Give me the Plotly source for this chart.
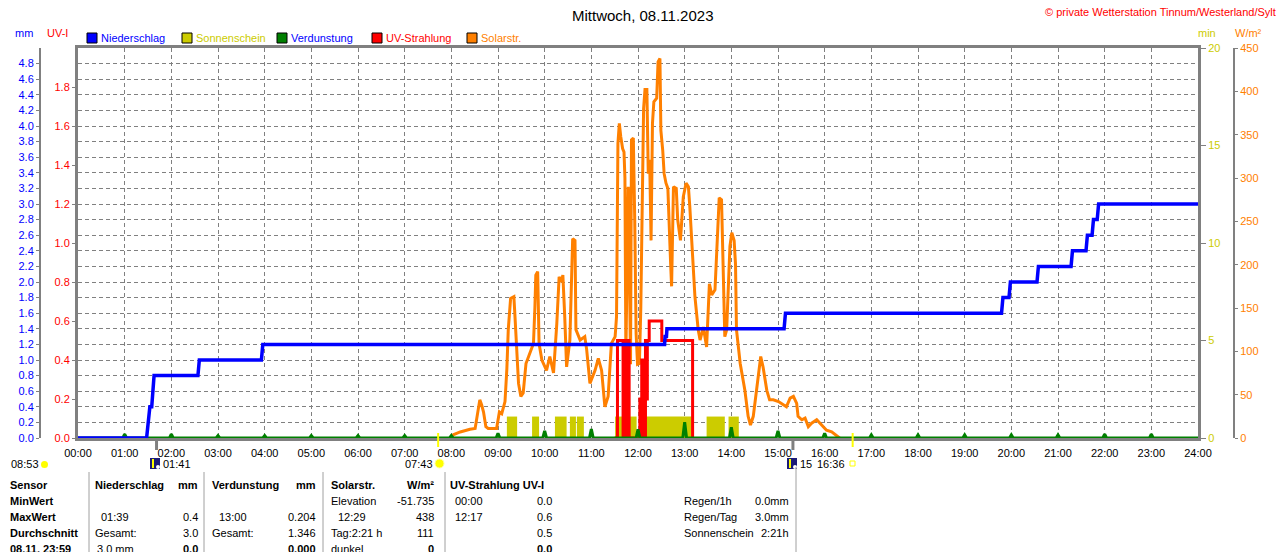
import plotly.graph_objects as go

W, H = 1280, 552

# ---- data (time in decimal hours) ----
hour_ticks = list(range(25))
hour_labels = ["%02d:00" % h for h in hour_ticks]

rain_t = [0.00, 1.47, 1.54, 1.58, 1.63, 2.57, 2.60, 3.93, 3.96, 12.57, 12.58, 12.61, 12.62,
          15.13, 15.16, 19.79, 19.82, 19.95, 19.98, 20.55, 20.58, 21.28, 21.31, 21.60, 21.63,
          21.73, 21.76, 21.84, 21.87, 24.00]
rain_mm = [0.0, 0.0, 0.4, 0.4, 0.8, 0.8, 1.0, 1.0, 1.2, 1.2, 1.3, 1.3, 1.4,
           1.4, 1.6, 1.6, 1.8, 1.8, 2.0, 2.0, 2.2, 2.2, 2.4, 2.4, 2.6,
           2.6, 2.8, 2.8, 3.0, 3.0]

uv_t = [11.50, 11.56, 11.68, 11.70, 11.73, 11.75, 11.78, 11.79, 11.81, 12.04, 12.06, 12.08,
        12.10, 12.12, 12.14, 12.16, 12.18, 12.20, 12.24, 12.51, 13.17, 13.20]
uv_i = [0.0, 0.5, 0.0, 0.5, 0.0, 0.5, 0.0, 0.5, 0.0, 0.2, 0.0, 0.4,
        0.1, 0.4, 0.0, 0.5, 0.2, 0.5, 0.6, 0.5, 0.0, 0.0]

solar_t = [8.00, 8.05, 8.19, 8.30, 8.40, 8.51, 8.55, 8.61, 8.65, 8.69, 8.74, 8.79, 8.97, 9.03,
           9.08, 9.15, 9.19, 9.22, 9.27, 9.34, 9.36, 9.40, 9.44, 9.49, 9.54, 9.60, 9.69, 9.76,
           9.79, 9.81, 9.85, 9.88, 9.94, 10.04, 10.11, 10.19, 10.26, 10.31, 10.36, 10.39, 10.43,
           10.47, 10.54, 10.60, 10.65, 10.67, 10.76, 10.86, 10.90, 10.97, 11.08, 11.15, 11.22,
           11.29, 11.36, 11.43, 11.51,
           11.54, 11.57, 11.60, 11.63, 11.67, 11.70, 11.72, 11.74, 11.76, 11.79, 11.81, 11.84,
           11.86, 11.90, 11.93, 11.96, 11.99, 12.03, 12.06, 12.08, 12.12, 12.15, 12.19, 12.22,
           12.25, 12.28, 12.31, 12.34, 12.40, 12.43, 12.47, 12.49, 12.53, 12.56, 12.60, 12.64,
           12.67, 12.70, 12.72, 12.76, 12.82, 12.85, 12.91, 12.94, 12.97, 13.03, 13.08, 13.11,
           13.15, 13.19, 13.22, 13.29, 13.33, 13.40, 13.47, 13.53, 13.58, 13.65, 13.70, 13.74,
           13.79, 13.83, 13.86, 13.90, 13.97, 14.01, 14.06, 14.09,
           14.11, 14.19, 14.29, 14.36, 14.41, 14.47, 14.54, 14.60, 14.63, 14.68, 14.76, 14.82,
           14.90, 15.01, 15.11, 15.18, 15.26, 15.33, 15.40, 15.43, 15.51, 15.58, 15.65, 15.72,
           15.83, 15.94, 16.04, 16.15, 16.26, 16.32]
solar_w = [2, 4, 7, 9, 10, 11, 25, 44, 38, 30, 13, 11, 11, 30,
           28, 42, 80, 125, 161, 163, 144, 100, 63, 48, 52, 86, 98, 109,
           150, 188, 192, 109, 90, 78, 94, 75, 132, 186, 180, 188, 140,
           82, 113, 230, 228, 125, 113, 117, 102, 63, 78, 92, 78,
           36, 48, 109, 117,
           140, 340, 363, 348, 334, 330, 300, 95, 200, 290, 228, 85,
           344, 346, 252, 120, 85, 86, 150, 228, 380, 402, 402, 305,
           321, 228, 363, 388, 392, 434, 438, 355, 332, 305, 294, 288,
           228, 200, 175, 290, 288, 252, 228, 252, 278, 294, 290, 267,
           228, 200, 163, 125, 113, 128, 105, 178, 165, 171, 230, 277,
           275, 200, 117, 125, 221, 237, 228, 200,
           125, 86, 55, 25, 15, 25, 55, 86, 94, 82, 55, 44,
           44, 42, 38, 36, 46, 48, 40, 25, 21, 23, 13, 17,
           21, 15, 9, 7, 3, 0]

sun_start = [9.19, 9.73, 10.22, 10.54, 10.69, 11.51, 12.04, 13.47, 13.94]
sun_end = [9.41, 9.88, 10.47, 10.67, 10.84, 11.97, 13.15, 13.86, 14.16]
sun_min = [1.1, 1.1, 1.1, 1.1, 1.1, 1.1, 1.1, 1.1, 1.1]

evap_h = [1, 2, 3, 4, 5, 6, 7, 8, 9, 10, 11, 12, 13, 14, 15, 16, 17, 18, 19, 20, 21, 22, 23]
evap_mm = [0.05, 0.05, 0.03, 0.03, 0.03, 0.03, 0.03, 0.03, 0.06, 0.09, 0.115, 0.11, 0.204,
           0.137, 0.09, 0.06, 0.04, 0.04, 0.04, 0.04, 0.04, 0.05, 0.05]

mm_ticks = [0.0, 0.2, 0.4, 0.6, 0.8, 1.0, 1.2, 1.4, 1.6, 1.8, 2.0, 2.2, 2.4, 2.6, 2.8, 3.0,
            3.2, 3.4, 3.6, 3.8, 4.0, 4.2, 4.4, 4.6, 4.8]
uv_ticks = [0.0, 0.2, 0.4, 0.6, 0.8, 1.0, 1.2, 1.4, 1.6, 1.8]
min_ticks = [0, 5, 10, 15, 20]
wm2_ticks = [0, 50, 100, 150, 200, 250, 300, 350, 400, 450]

legend_names = ["Niederschlag", "Sonnenschein", "Verdunstung", "UV-Strahlung", "Solarstr."]

# moon / sun events below the time axis
moon_times = [1.683, 15.32]
sun_times = [7.717, 16.60]

BLUE, YEL, GRN, RED, ORA, GRAY = "#0000FF", "#CCCC00", "#008000", "#FF0000", "#FF8000", "#808080"
legend_colors = [BLUE, YEL, GRN, RED, ORA]
legend_text_colors = [BLUE, YEL, BLUE, RED, ORA]
FONT = "Liberation Sans"


def px(x):
    return x / W


def py(y):
    return 1 - y / H


# hourly evaporation drawn as small spikes on a zero line
evap_x, evap_y = [0.0], [0.0]
for h, v in zip(evap_h, evap_mm):
    evap_x += [h - 0.04, h, h + 0.04]
    evap_y += [0.0, v, 0.0]
evap_x.append(24.0)
evap_y.append(0.0)

fig = go.Figure()

fig.add_trace(go.Bar(
    x=[(a + b) / 2 for a, b in zip(sun_start, sun_end)],
    width=[b - a for a, b in zip(sun_start, sun_end)],
    y=sun_min, yaxis="y", marker=dict(color=YEL, line=dict(width=0)), name="Sonnenschein"))
fig.add_trace(go.Scatter(x=solar_t, y=solar_w, yaxis="y2", mode="lines",
                         line=dict(color=ORA, width=3), name="Solarstr."))
fig.add_trace(go.Scatter(x=uv_t, y=uv_i, yaxis="y3", mode="lines",
                         line=dict(color=RED, width=3, shape="hv"), name="UV-Strahlung"))
fig.add_trace(go.Scatter(x=evap_x, y=evap_y, yaxis="y4", mode="lines",
                         line=dict(color=GRN, width=3), name="Verdunstung"))
fig.add_trace(go.Scatter(x=rain_t, y=rain_mm, yaxis="y4", mode="lines",
                         line=dict(color=BLUE, width=3.5), name="Niederschlag"))

shapes = []
ann = []


def txt(x, y, s, color="black", size=11, anchor="left", bold=False):
    ann.append(dict(x=px(x), y=py(y), xref="paper", yref="paper", showarrow=False,
                    text="<b>%s</b>" % s if bold else s, xanchor=anchor, yanchor="middle",
                    font=dict(family=FONT, size=size, color=color)))


# header texts
txt(642, 15, "Mittwoch, 08.11.2023", size=15, anchor="center")
txt(1278, 12, "© private Wetterstation Tinnum/Westerland/Sylt", color=RED, anchor="right")
txt(13, 33, "mm", color=BLUE)
txt(45, 33, "UV-I", color=RED)
txt(1196, 33, "min", color=YEL)
txt(1233, 33, "W/m²", color=ORA)

# legend
for i, (name, c, tc) in enumerate(zip(legend_names, legend_colors, legend_text_colors)):
    x0 = 87 + 95 * i
    shapes.append(dict(type="rect", xref="paper", yref="paper", x0=px(x0), x1=px(x0 + 10),
                       y0=py(43), y1=py(33), fillcolor=c, line=dict(color="black", width=1)))
    txt(x0 + 12, 38, name, color=tc)

# event ticks on the time axis
for t in moon_times:
    shapes.append(dict(type="line", xref="x", yref="paper", x0=t, x1=t, y0=py(438), y1=py(450),
                       line=dict(color=GRAY, width=3)))
for t in sun_times:
    shapes.append(dict(type="line", xref="x", yref="paper", x0=t, x1=t, y0=py(433), y1=py(447),
                       line=dict(color="#FFFF00", width=2)))

# event row
txt(9, 464, "08:53")
shapes.append(dict(type="circle", xref="paper", yref="paper", x0=px(41), x1=px(48), y0=py(468),
                   y1=py(461), fillcolor="#FFFF00", line=dict(width=0)))
for x0 in (150, 787):
    shapes.append(dict(type="rect", xref="paper", yref="paper", x0=px(x0), x1=px(x0 + 10),
                       y0=py(469), y1=py(458), fillcolor="#1C1C78", line=dict(width=0)))
    shapes.append(dict(type="circle", xref="paper", yref="paper", x0=px(x0 + 6), x1=px(x0 + 10),
                       y0=py(469), y1=py(465), fillcolor="white", line=dict(width=0)))
    shapes.append(dict(type="line", xref="paper", yref="paper", x0=px(x0 + 3), x1=px(x0 + 3),
                       y0=py(468), y1=py(459), line=dict(color="#FFFF00", width=2)))
txt(161, 464, "01:41")
txt(403, 464, "07:43")
shapes.append(dict(type="circle", xref="paper", yref="paper", x0=px(435), x1=px(444), y0=py(468),
                   y1=py(459), fillcolor="#FFFF00", line=dict(color="#FFFFA0", width=1)))
txt(798, 464, "15")
txt(815, 464, "16:36")
shapes.append(dict(type="rect", xref="paper", yref="paper", x0=px(850), x1=px(855), y0=py(466),
                   y1=py(461), line=dict(color="#FFFF00", width=1)))

# bottom table
row_y = [485, 501, 517, 533, 549]
cells = [
    (8, 0, "Sensor", "left", True), (8, 1, "MinWert", "left", True), (8, 2, "MaxWert", "left", True),
    (8, 3, "Durchschnitt", "left", True), (8, 4, "08.11. 23:59", "left", True),
    (93, 0, "Niederschlag", "left", True), (200, 0, "mm", "right", True),
    (99, 2, "01:39", "left", False), (200, 2, "0.4", "right", False),
    (93, 3, "Gesamt:", "left", False), (200, 3, "3.0", "right", False),
    (95, 4, "3.0 mm", "left", False), (200, 4, "0.0", "right", True),
    (210, 0, "Verdunstung", "left", True), (318, 0, "mm", "right", True),
    (217, 2, "13:00", "left", False), (318, 2, "0.204", "right", False),
    (210, 3, "Gesamt:", "left", False), (318, 3, "1.346", "right", False),
    (318, 4, "0.000", "right", True),
    (329, 0, "Solarstr.", "left", True), (436, 0, "W/m²", "right", True),
    (329, 1, "Elevation", "left", False), (436, 1, "-51.735", "right", False),
    (336, 2, "12:29", "left", False), (436, 2, "438", "right", False),
    (329, 3, "Tag:2:21 h", "left", False), (436, 3, "111", "right", False),
    (329, 4, "dunkel", "left", False), (436, 4, "0", "right", True),
    (448, 0, "UV-Strahlung UV-I", "left", True),
    (453, 1, "00:00", "left", False), (554, 1, "0.0", "right", False),
    (453, 2, "12:17", "left", False), (554, 2, "0.6", "right", False),
    (554, 3, "0.5", "right", False),
    (554, 4, "0.0", "right", True),
    (682, 1, "Regen/1h", "left", False), (791, 1, "0.0mm", "right", False),
    (682, 2, "Regen/Tag", "left", False), (791, 2, "3.0mm", "right", False),
    (682, 3, "Sonnenschein", "left", False), (791, 3, "2:21h", "right", False),
]
for x, r, s, a, b in cells:
    txt(x, row_y[r], s, anchor=a, bold=b)
for x, y_top in ((89, 472), (204, 472), (323, 472), (445, 472), (796, 467)):
    shapes.append(dict(type="line", xref="paper", yref="paper", x0=px(x), x1=px(x),
                       y0=py(y_top), y1=py(552), line=dict(color="#A0A0A0", width=1)))

grid = dict(showgrid=True, gridcolor=GRAY, gridwidth=1, griddash="4px,3px")
tickf = dict(family=FONT, size=11)

fig.update_layout(
    template="none",
    width=W, height=H, margin=dict(l=0, r=0, t=0, b=0, pad=0), autosize=False,
    paper_bgcolor="white", plot_bgcolor="white",
    showlegend=False, barmode="overlay", font=dict(family=FONT, size=11),
    xaxis=dict(domain=[px(78), px(1198)], range=[0, 24], tickmode="array", tickvals=hour_ticks,
               ticktext=hour_labels, ticks="outside", ticklen=3, tickcolor="rgba(0,0,0,0)",
               showline=True, linecolor=GRAY, linewidth=3, mirror=True, zeroline=False,
               automargin=False, tickfont=dict(tickf, color="black"), **grid),
    yaxis=dict(domain=[py(438), py(48)], range=[0, 20], anchor="x", side="right",
               tickmode="array", tickvals=min_ticks, ticks="outside", ticklen=5, tickcolor=GRAY,
               showline=True, linecolor=GRAY, linewidth=3, mirror=True, showgrid=False,
               zeroline=False, automargin=False, tickfont=dict(tickf, color=YEL)),
    yaxis2=dict(overlaying="y", anchor="free", position=px(1234), side="right", range=[0, 450],
                tickmode="array", tickvals=wm2_ticks, ticks="outside", ticklen=3, tickcolor=GRAY,
                showline=True, linecolor=GRAY, linewidth=2, showgrid=False, zeroline=False,
                automargin=False, tickfont=dict(tickf, color=ORA)),
    yaxis3=dict(overlaying="y", anchor="x", side="left", range=[0, 2], tickmode="array",
                tickvals=uv_ticks, tickformat=".1f", ticks="outside", ticklen=5, tickcolor=GRAY,
                showline=False, showgrid=False, zeroline=False, automargin=False,
                tickfont=dict(tickf, color=RED)),
    yaxis4=dict(overlaying="y", anchor="free", position=px(40), side="left", range=[0, 5],
                tickmode="array", tickvals=mm_ticks, tickformat=".1f", ticks="outside", ticklen=3,
                tickcolor=GRAY, showline=True, linecolor=GRAY, linewidth=2, zeroline=False,
                automargin=False, tickfont=dict(tickf, color=BLUE), **grid),
    shapes=shapes, annotations=ann,
)

# the page's default 8px body margin would shift the figure, so drop it
fig.write_html("out.html", config={"displayModeBar": False},
               post_script="document.body.style.margin='0';document.body.style.overflow='hidden';")
